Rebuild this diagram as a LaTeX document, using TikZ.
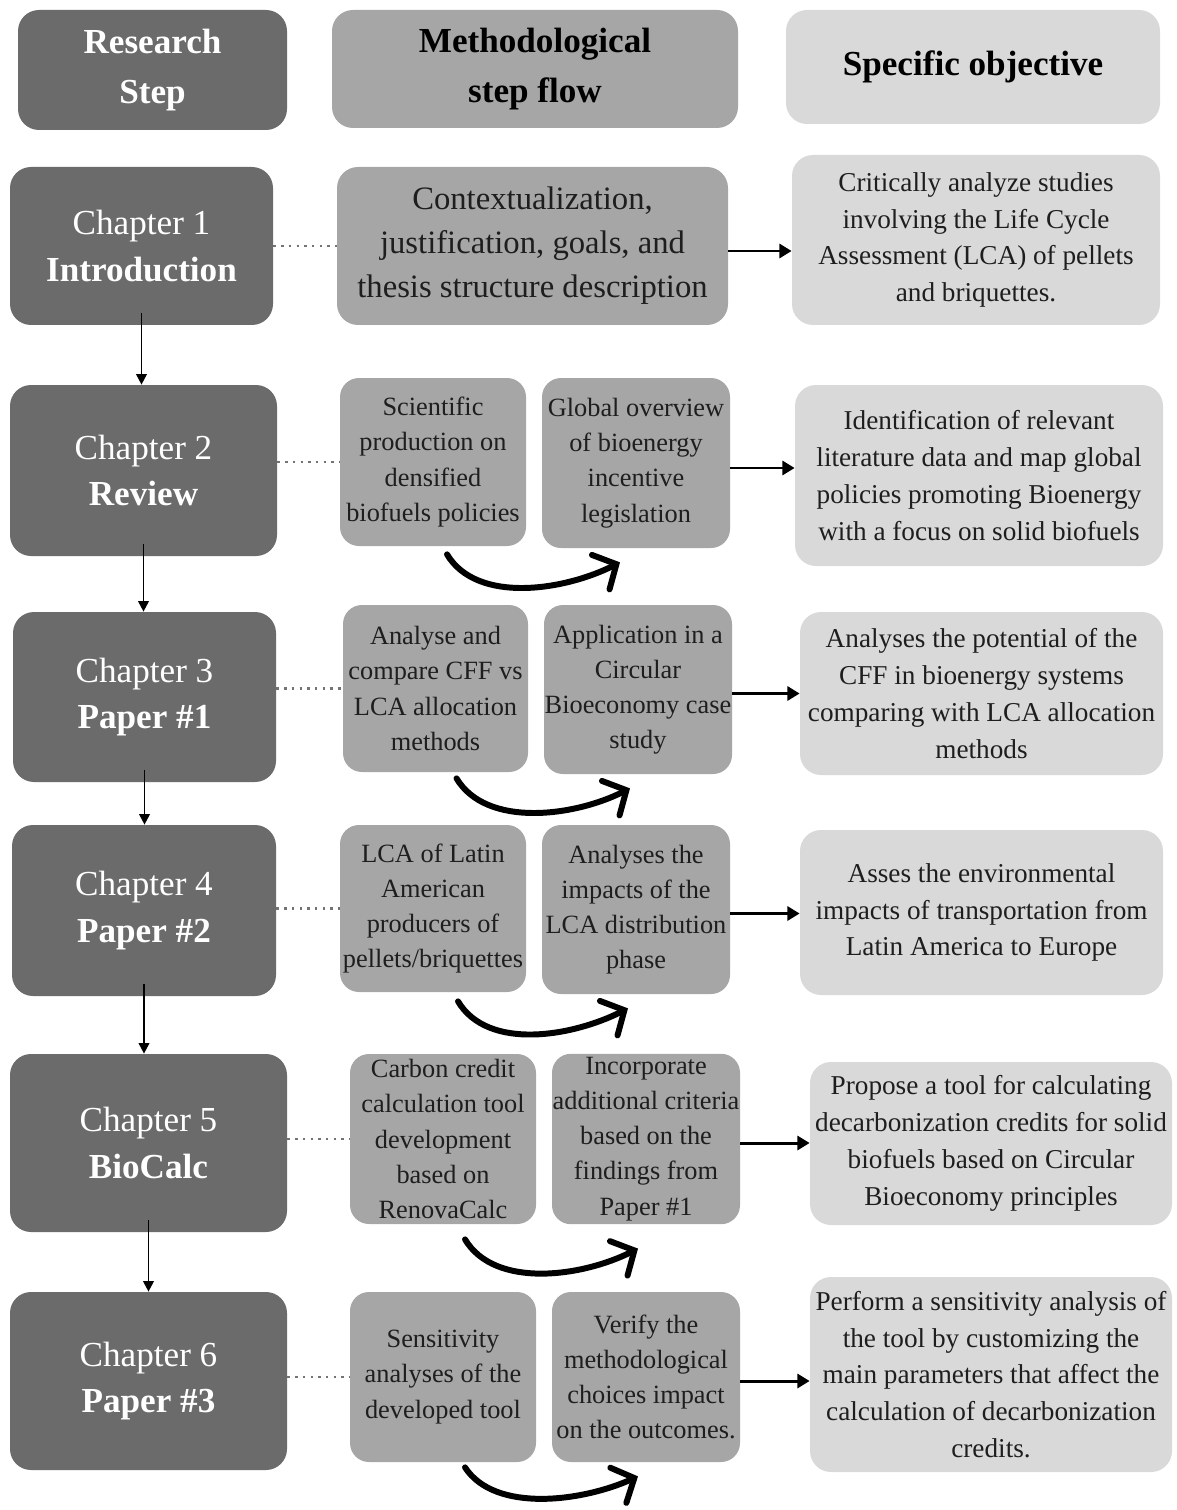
\documentclass[tikz,border=0pt]{standalone}
\usepackage{fontspec}
\setmainfont{Liberation Serif}
\usetikzlibrary{positioning, arrows.meta, calc}

\definecolor{stepgray}{HTML}{6B6B6B}
\definecolor{flowgray}{HTML}{A6A6A6}
\definecolor{goalgray}{HTML}{D9D9D9}
\definecolor{inkgray}{HTML}{1E1E1E}

\tikzset{
  boxsize/.style 2 args={minimum width={#1*0.02cm}, minimum height={#2*0.02cm}},
  plainbox/.style={rounded corners=0.42cm, align=center, inner xsep=0pt, inner ysep=2pt},
  headstep/.style={plainbox, fill=stepgray, text=white, font=\fontsize{20}{28.5}\selectfont\bfseries},
  headflow/.style={plainbox, fill=flowgray, text=black, font=\fontsize{20}{28.5}\selectfont\bfseries},
  headgoal/.style={plainbox, fill=goalgray, text=black, font=\fontsize{20}{28.5}\selectfont\bfseries},
  chapbox/.style={plainbox, fill=stepgray, text=white, font=\fontsize{20}{26.7}\selectfont},
  bigflow/.style={plainbox, fill=flowgray, text=inkgray, font=\fontsize{18.6}{25}\selectfont},
  flowbox/.style={plainbox, rounded corners=0.38cm, fill=flowgray, text=inkgray, font=\fontsize{15}{20}\selectfont},
  goalbox/.style={plainbox, fill=goalgray, text=inkgray, font=\fontsize{15.5}{21}\selectfont},
  dotline/.style={black!55, line width=1.4pt, dash pattern=on 1.4pt off 3pt},
  steparrow/.style={line width=1.1pt, -{Triangle[length=6pt, width=6pt]}},
  flowarrow/.style={line width=1.7pt, -{Triangle[length=7pt, width=8pt]}},
  turnarrow/.style={line width=3.4pt, line cap=round, -{Straight Barb[length=10pt, width=22pt, line cap=round]}}
}

\begin{document}
\begin{tikzpicture}[x=0.02cm, y=-0.02cm]
  \useasboundingbox (0,0) rectangle (1176,1510);

  % Column headers
  \node[headstep, boxsize={269}{120}] (hstep) at (152.5,70) {Research\\Step};
  \node[headflow, boxsize={406}{118}] (hflow) at (535,69) {Methodological\\step flow};
  \node[headgoal, boxsize={374}{114}] (hgoal) at (973,67) {Specific objective};

  % Research steps
  \node[chapbox, boxsize={263}{158}] (c1) at (141.5,246) {Chapter 1\\\textbf{Introduction}};
  \node[chapbox, boxsize={267}{171}] (c2) at (143.5,470.5) {Chapter 2\\\textbf{Review}};
  \node[chapbox, boxsize={263}{170}] (c3) at (144.5,697) {Chapter 3\\\textbf{Paper \#1}};
  \node[chapbox, boxsize={264}{171}] (c4) at (144,910.5) {Chapter 4\\\textbf{Paper \#2}};
  \node[chapbox, boxsize={277}{178}] (c5) at (148.5,1143) {Chapter 5\\\textbf{BioCalc}};
  \node[chapbox, boxsize={277}{178}] (c6) at (148.5,1381) {Chapter 6\\\textbf{Paper \#3}};

  % Methodological steps
  \node[bigflow, boxsize={391}{158}] (m1) at (532.5,246) {Contextualization,\\justification, goals, and\\thesis structure description};
  \node[flowbox, boxsize={186}{168}] (m2a) at (433,462) {Scientific\\production on\\densified\\biofuels policies};
  \node[flowbox, boxsize={188}{170}] (m2b) at (636,463) {Global overview\\of bioenergy\\incentive\\legislation};
  \node[flowbox, boxsize={185}{167}] (m3a) at (435.5,688.5) {Analyse and\\compare CFF vs\\LCA allocation\\methods};
  \node[flowbox, boxsize={188}{169}] (m3b) at (638,689.5) {Application in a\\Circular\\Bioeconomy case\\study};
  \node[flowbox, boxsize={186}{167}] (m4a) at (433,908.5) {LCA of Latin\\American\\producers of\\pellets/briquettes};
  \node[flowbox, boxsize={188}{169}] (m4b) at (636,909.5) {Analyses the\\impacts of the\\LCA distribution\\phase};
  \node[flowbox, boxsize={186}{170}] (m5a) at (443,1139) {Carbon credit\\calculation tool\\development\\based on\\RenovaCalc};
  \node[flowbox, boxsize={188}{170}] (m5b) at (646,1139) {Incorporate\\additional criteria\\based on the\\findings from\\Paper \#1};
  \node[flowbox, boxsize={186}{170}] (m6a) at (443,1377) {Sensitivity\\analyses of the\\developed tool};
  \node[flowbox, boxsize={188}{170}] (m6b) at (646,1377) {Verify the\\methodological\\choices impact\\on the outcomes.};

  % Specific objectives
  \node[goalbox, boxsize={368}{170}] (o1) at (976,240) {Critically analyze studies\\involving the Life Cycle\\Assessment (LCA) of pellets\\and briquettes.};
  \node[goalbox, boxsize={368}{181}] (o2) at (979,475.5) {Identification of relevant\\literature data and map global\\policies promoting Bioenergy\\with a focus on solid biofuels};
  \node[goalbox, boxsize={363}{163}] (o3) at (981.5,693.5) {Analyses the potential of the\\CFF in bioenergy systems\\comparing with LCA allocation\\methods};
  \node[goalbox, boxsize={363}{165}] (o4) at (981.5,912.5) {Asses the environmental\\impacts of transportation from\\Latin America to Europe};
  \node[goalbox, boxsize={362}{163}] (o5) at (991,1143.5) {Propose a tool for calculating\\decarbonization credits for solid\\biofuels based on Circular\\Bioeconomy principles};
  \node[goalbox, boxsize={362}{195}] (o6) at (991,1374.5) {Perform a sensitivity analysis of\\the tool by customizing the\\main parameters that affect the\\calculation of decarbonization\\credits.};

  % Chapter sequence
  \draw[steparrow] ([yshift=0.24cm]c1.south) -- (c1.south |- c2.north);
  \draw[steparrow] ([yshift=0.24cm]c2.south) -- (c2.south |- c3.north);
  \draw[steparrow] ([yshift=0.24cm]c3.south) -- (c3.south |- c4.north);
  \draw[steparrow] ([yshift=0.24cm]c4.south) -- (c4.south |- c5.north);
  \draw[steparrow] ([yshift=0.24cm]c5.south) -- (c5.south |- c6.north);

  % Dotted links
  \draw[dotline] (c1.east |- m1.west) -- (m1.west);
  \draw[dotline] (c2.east |- m2a.west) -- (m2a.west);
  \draw[dotline] (c3.east |- m3a.west) -- (m3a.west);
  \draw[dotline] (c4.east |- m4a.west) -- (m4a.west);
  \draw[dotline] (c5.east |- m5a.west) -- (m5a.west);
  \draw[dotline] (c6.east |- m6a.west) -- (m6a.west);

  % To objectives
  \draw[flowarrow] ([yshift=-0.1cm]m1.east) -- ([yshift=-0.1cm]m1.east -| o1.west);
  \draw[flowarrow] ([yshift=-0.1cm]m2b.east) -- ([yshift=-0.1cm]m2b.east -| o2.west);
  \draw[flowarrow] ([yshift=-0.08cm]m3b.east) -- ([yshift=-0.08cm]m3b.east -| o3.west);
  \draw[flowarrow] ([yshift=-0.08cm]m4b.east) -- ([yshift=-0.08cm]m4b.east -| o4.west);
  \draw[flowarrow] ([yshift=-0.08cm]m5b.east) -- ([yshift=-0.08cm]m5b.east -| o5.west);
  \draw[flowarrow] ([yshift=-0.08cm]m6b.east) -- ([yshift=-0.08cm]m6b.east -| o6.west);

  % Curved arrows between steps
  \draw[turnarrow] ($(m2a.south)+(14,8)$) .. controls +(30,50) and +(-55,28) .. ($(m2b.south)+(-16,14)$);
  \draw[turnarrow] ($(m3a.south)+(21,6)$) .. controls +(30,50) and +(-55,28) .. ($(m3b.south)+(-8,14)$);
  \draw[turnarrow] ($(m4a.south)+(25,9)$) .. controls +(30,50) and +(-55,28) .. ($(m4b.south)+(-8,14)$);
  \draw[turnarrow] ($(m5a.south)+(22,15)$) .. controls +(30,50) and +(-55,28) .. ($(m5b.south)+(-8,24)$);
  \draw[turnarrow] ($(m6a.south)+(22,5)$) .. controls +(30,46) and +(-55,25) .. ($(m6b.south)+(-8,14)$);
\end{tikzpicture}
\end{document}
